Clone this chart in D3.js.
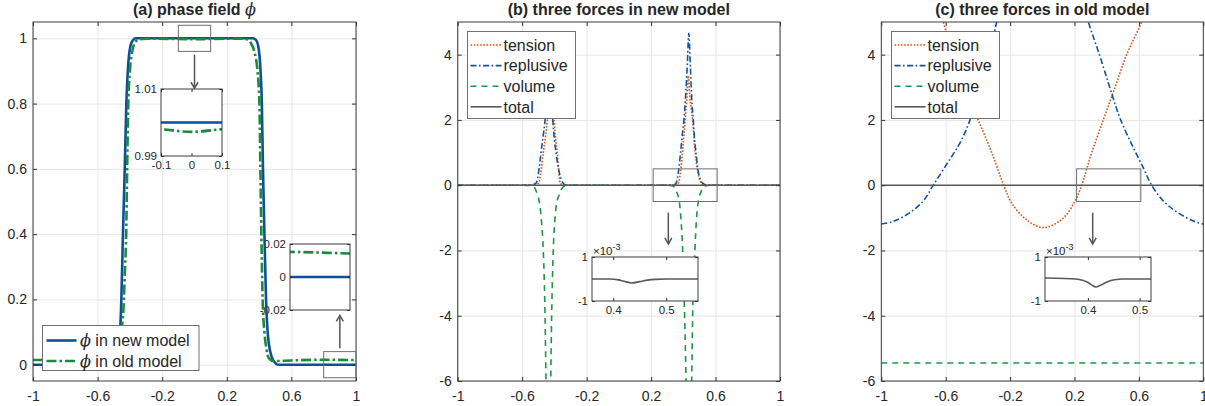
<!DOCTYPE html>
<html>
<head>
<meta charset="utf-8">
<script src="https://cdn.jsdelivr.net/npm/d3@7"></script>
<style>
body { margin: 0; background: #fff; }
svg text { font-family: "Liberation Sans", Arial, Helvetica, sans-serif; fill: #262626; }
</style>
</head>
<body>
<svg id="fig" width="1205" height="406"></svg>
<script>
// ---- values ----
const xTicks = [-1, -0.6, -0.2, 0.2, 0.6, 1];
const yTicksA = [0, 0.2, 0.4, 0.6, 0.8, 1];
const yTicksBC = [-6, -4, -2, 0, 2, 4];

const titles = ['(a) phase field  ', '(b) three forces in new model', '(c) three forces in old model'];
const legendA = ['ϕ in new model', 'ϕ in old model'];
const legendForces = ['tension', 'replusive', 'volume', 'total'];

// (a) phase field
const phiNew = [[-1,0],[-0.6,0],[-0.52,0],[-0.5,0.008],[-0.48,0.03],[-0.461,0.1],[-0.453,0.2],[-0.443,0.4],
  [-0.432,0.6],[-0.422,0.8],[-0.413,0.9],[-0.395,0.98],[-0.38,0.995],[-0.365,1],[0,1],[0.36,1],[0.38,0.995],
  [0.393,0.98],[0.409,0.9],[0.417,0.8],[0.424,0.6],[0.433,0.4],[0.443,0.2],[0.453,0.1],[0.474,0.03],
  [0.495,0.008],[0.515,0],[1,0]];
const phiOld = [[-1,0.0142],[-0.9,0.0148],[-0.8,0.0152],[-0.6,0.013],[-0.52,0.011],[-0.49,0.02],[-0.47,0.05],
  [-0.455,0.1],[-0.44,0.17],[-0.43,0.3],[-0.423,0.4],[-0.417,0.6],[-0.41,0.8],[-0.4,0.9],[-0.385,0.96],
  [-0.365,0.99],[-0.34,0.997],[-0.3,0.9988],[-0.1,0.998],[0,0.9972],[0.1,0.998],[0.3,0.9988],[0.33,0.996],
  [0.35,0.985],[0.37,0.96],[0.39,0.9],[0.402,0.8],[0.408,0.6],[0.414,0.4],[0.422,0.2],[0.433,0.1],
  [0.445,0.05],[0.46,0.02],[0.49,0.011],[0.6,0.013],[0.8,0.0152],[0.9,0.0148],[1,0.0142]];

// (b) forces, new model
const tensionB = [[-1,0],[-0.6,0],[-0.54,0.005],[-0.52,0.012],[-0.5,0.05],[-0.485,0.35],[-0.469,1],[-0.455,1.5],
  [-0.444,2],[-0.433,2.7],[-0.423,3.35],[-0.412,2.7],[-0.402,2],[-0.392,1.4],[-0.382,1],[-0.373,0.45],
  [-0.365,0.08],[-0.35,0.01],[-0.3,0],[0.3,0],[0.35,0.01],[0.369,0.06],[0.385,0.5],[0.4,1.3],[0.412,2],
  [0.422,2.7],[0.431,3.35],[0.44,2.75],[0.45,2.3],[0.458,2],[0.47,1.2],[0.49,0.4],[0.514,0.06],[0.53,0.01],
  [0.6,0],[1,0]];
const replusiveB = [[-1,0],[-0.6,0],[-0.54,0.01],[-0.514,0.06],[-0.495,0.5],[-0.483,1],[-0.47,1.5],[-0.458,2],
  [-0.446,3.1],[-0.434,4.65],[-0.422,3.1],[-0.41,2],[-0.4,1.4],[-0.39,1],[-0.37,0.4],[-0.345,0.06],
  [-0.33,0.01],[-0.3,0],[0.3,0],[0.34,0.01],[0.355,0.06],[0.372,0.5],[0.383,1],[0.395,1.6],[0.404,2],
  [0.415,2.8],[0.425,3.7],[0.434,4.65],[0.444,3.6],[0.454,2.5],[0.462,2],[0.47,1.4],[0.479,1],[0.49,0.5],
  [0.508,0.15],[0.524,0.05],[0.54,0.01],[0.6,0],[1,0]];
const volumeB = [[-1,0],[-0.6,0],[-0.54,-0.02],[-0.52,-0.1],[-0.505,-0.3],[-0.494,-0.5],[-0.48,-1.1],[-0.469,-2],
  [-0.458,-4],[-0.452,-6],[-0.445,-8],[-0.437,-8.5],[-0.43,-8],[-0.423,-6],[-0.417,-4],[-0.407,-2],
  [-0.396,-1],[-0.386,-0.55],[-0.37,-0.3],[-0.355,-0.12],[-0.34,-0.03],[-0.3,0],[0.3,0],[0.33,-0.02],
  [0.348,-0.08],[0.362,-0.25],[0.375,-0.5],[0.385,-1],[0.396,-2],[0.408,-4],[0.417,-6],[0.425,-8],
  [0.434,-8.5],[0.443,-8],[0.452,-6],[0.458,-4],[0.472,-2],[0.482,-1],[0.493,-0.5],[0.51,-0.2],
  [0.524,-0.06],[0.55,-0.01],[0.6,0],[1,0]];
const totalB = [[-1,0],[-0.5,0],[-0.48,-0.015e-3],[-0.465,-0.05e-3],[-0.45,-0.12e-3],[-0.435,-0.18e-3],
  [-0.42,-0.1e-3],[-0.41,-0.04e-3],[-0.395,0],[0.36,0],[0.395,0],[0.41,-0.04e-3],[0.42,-0.1e-3],
  [0.435,-0.18e-3],[0.45,-0.12e-3],[0.465,-0.05e-3],[0.48,-0.015e-3],[0.5,0],[1,0]];

// (c) forces, old model
const tensionC = [[-0.7,6.3],[-0.615,5],[-0.553,4],[-0.48,3],[-0.398,2],[-0.314,1],[-0.24,0],[-0.19,-0.55],
  [-0.1,-1.05],[0.006,-1.3],[0.12,-1.05],[0.2,-0.52],[0.245,0],[0.276,0.5],[0.307,1],[0.379,2],[0.452,3],
  [0.524,4],[0.617,5],[0.7,6.1]];
const replusiveC = [[-1,-1.19],[-0.925,-1.11],[-0.822,-0.84],[-0.739,-0.48],[-0.677,0],[-0.594,0.64],
  [-0.511,1.3],[-0.449,2],[-0.387,3.0],[-0.325,4.07],[-0.283,5],[-0.2,6.5],[0,7.5],[0.2,6.5],[0.286,5],
  [0.358,3.95],[0.42,2.98],[0.482,2.06],[0.565,1.15],[0.627,0.54],[0.679,0],[0.751,-0.48],[0.835,-0.82],
  [0.938,-1.1],[1,-1.19]];
const volumeC = [[-1,-5.45],[1,-5.45]];
const totalC = [[-1,0],[0.376,0],[0.39,-0.06e-3],[0.4,-0.16e-3],[0.408,-0.28e-3],[0.415,-0.36e-3],
  [0.423,-0.3e-3],[0.433,-0.18e-3],[0.443,-0.08e-3],[0.455,-0.02e-3],[0.47,0],[1,0]];

// ---- styles ----
const styles = {
  phiNew:    { stroke: '#0d4f98', width: 2.6, dash: null },
  phiOld:    { stroke: '#1b8a3c', width: 2.6, dash: '10,3,2.5,3' },
  tension:   { stroke: '#d95319', width: 1.6, dash: '1.6,1.6' },
  replusive: { stroke: '#0f54a0', width: 1.6, dash: '6,2.5,1.6,2.5' },
  volume:    { stroke: '#1e9446', width: 1.6, dash: '6,5' },
  total:     { stroke: '#595959', width: 1.6, dash: null }
};
const forceKeys = ['tension', 'replusive', 'volume', 'total'];

const svg = d3.select('#fig');
let clipCount = 0;

function styled(sel, st) {
  sel.attr('fill', 'none')
    .attr('stroke', st.stroke)
    .attr('stroke-width', st.width)
    .attr('stroke-dasharray', st.dash);
  return sel;
}

function makeClip(l, t, w, h) {
  const id = 'clip' + (clipCount++);
  svg.append('clipPath').attr('id', id)
    .append('rect').attr('x', l).attr('y', t).attr('width', w).attr('height', h);
  return 'url(#' + id + ')';
}

function scales(p) {
  return {
    x: d3.scaleLinear().domain(p.xd).range([p.l, p.r]),
    y: d3.scaleLinear().domain(p.yd).range([p.b, p.t])
  };
}

function grid(p, s) {
  const w = p.r - p.l, h = p.b - p.t;
  const g = svg.append('g');
  g.append('g').attr('transform', `translate(0,${p.b})`)
    .call(d3.axisBottom(s.x).tickValues(p.xticks).tickSize(-h).tickFormat(''))
    .call(a => a.select('.domain').remove());
  g.append('g').attr('transform', `translate(${p.l},0)`)
    .call(d3.axisLeft(s.y).tickValues(p.yticks).tickSize(-w).tickFormat(''))
    .call(a => a.select('.domain').remove());
  g.selectAll('line').attr('stroke', '#e6e6e6').attr('stroke-width', 1);
}

// box with inward ticks on all four sides
function frame(p, s, opt) {
  const g = svg.append('g').attr('color', '#262626');
  const tl = opt.tick;
  g.append('g').attr('transform', `translate(0,${p.b})`)
    .call(d3.axisBottom(s.x).tickValues(p.xticks).tickSizeInner(-tl).tickSizeOuter(0).tickFormat(''));
  g.append('g').attr('transform', `translate(${p.l},0)`)
    .call(d3.axisLeft(s.y).tickValues(p.yticks).tickSizeInner(-tl).tickSizeOuter(0).tickFormat(''));
  g.append('g').attr('transform', `translate(0,${p.t})`)
    .call(d3.axisTop(s.x).tickValues(p.xticks).tickSizeInner(-tl).tickSizeOuter(0).tickFormat(''));
  g.append('g').attr('transform', `translate(${p.r},0)`)
    .call(d3.axisRight(s.y).tickValues(p.yticks).tickSizeInner(-tl).tickSizeOuter(0).tickFormat(''));
  g.selectAll('.domain').remove();
  g.selectAll('text').remove();
  g.selectAll('.tick line').attr('stroke', '#333');
  g.append('rect').attr('x', p.l).attr('y', p.t).attr('width', p.r - p.l).attr('height', p.b - p.t)
    .attr('fill', 'none').attr('stroke', '#3c3c3c').attr('stroke-width', 1);
}

function labels(p, s, opt) {
  const g = svg.append('g').attr('color', '#262626');
  const fmt = opt.fmt || (d => String(d));
  if (opt.xLabels) {
    g.append('g').attr('transform', `translate(0,${p.b})`)
      .call(d3.axisBottom(s.x).tickValues(p.xticks).tickSize(0).tickPadding(opt.padX).tickFormat(fmt));
  }
  if (opt.yLabels) {
    g.append('g').attr('transform', `translate(${p.l},0)`)
      .call(d3.axisLeft(s.y).tickValues(p.yticks).tickSize(0).tickPadding(opt.padY).tickFormat(opt.yfmt || fmt));
  }
  g.selectAll('.domain').remove();
  g.selectAll('text').attr('font-size', opt.fontSize)
    .attr('font-family', '"Liberation Sans", Arial, sans-serif').attr('fill', '#262626');
  g.selectAll('g').attr('font-size', null).attr('font-family', null);
  if (opt.exponent) {
    const t = g.append('text').attr('x', p.l + 1).attr('y', p.t - 2.5).attr('font-size', 11.5);
    t.append('tspan').text('×10');
    t.append('tspan').attr('dy', -5).attr('font-size', 9).text('-3');
  }
}

function curves(p, s, series, curve) {
  const clip = makeClip(p.l, p.t, p.r - p.l, p.b - p.t);
  const g = svg.append('g').attr('clip-path', clip);
  const ln = d3.line().x(d => s.x(d[0])).y(d => s.y(d[1])).curve(curve || d3.curveMonotoneX);
  series.forEach(se => {
    styled(g.append('path').datum(se.data).attr('d', ln), styles[se.key]);
  });
}

function zoomBox(s, xr, yr) {
  svg.append('rect')
    .attr('x', s.x(xr[0])).attr('y', s.y(yr[1]))
    .attr('width', s.x(xr[1]) - s.x(xr[0])).attr('height', s.y(yr[0]) - s.y(yr[1]))
    .attr('fill', 'none').attr('stroke', '#6e6e6e').attr('stroke-width', 1);
}

function arrow(s, xv, yFrom, yTo) {
  const x0 = s.x(xv), y0 = s.y(yFrom), y1 = s.y(yTo);
  const dir = y1 > y0 ? 1 : -1;
  const g = svg.append('g').attr('stroke', '#555').attr('stroke-width', 1.5).attr('fill', 'none');
  g.append('line').attr('x1', x0).attr('x2', x0).attr('y1', y0).attr('y2', y1);
  g.append('path').attr('d', `M${x0 - 3.5},${y1 - dir * 6}L${x0},${y1}L${x0 + 3.5},${y1 - dir * 6}`);
}

function legend(box, keys, texts) {
  const g = svg.append('g');
  g.append('rect').attr('x', box.x).attr('y', box.y).attr('width', box.w).attr('height', box.h)
    .attr('fill', '#fff').attr('stroke', '#707070').attr('stroke-width', 1);
  const rows = g.selectAll('.row').data(keys).enter().append('g')
    .attr('transform', (d, i) => `translate(${box.x},${box.y0 + i * box.dy})`);
  rows.append('line').attr('x1', box.s0).attr('x2', box.s1).attr('y1', 0).attr('y2', 0)
    .each(function (d) { styled(d3.select(this), styles[d]); });
  rows.append('text').attr('x', box.tx).attr('y', 0).attr('dy', '0.36em').attr('font-size', 16)
    .each(function (d, i) {
      const t = d3.select(this), str = texts[i];
      if (str[0] === 'ϕ') {
        t.append('tspan').attr('font-family', '"DejaVu Serif", serif').attr('font-style', 'italic').text('ϕ');
        t.append('tspan').text(str.slice(1));
      } else t.text(str);
    });
}

function title(p, str, phi) {
  const t = svg.append('text').attr('x', (p.l + p.r) / 2).attr('y', 15)
    .attr('text-anchor', 'middle').attr('font-size', 16).attr('font-weight', 'bold');
  t.append('tspan').text(str);
  if (phi) t.append('tspan').attr('font-family', '"DejaVu Serif", serif').attr('font-style', 'italic')
    .attr('font-weight', 'normal').text('ϕ');
}

function inset(p, series, opt, curve) {
  const s = scales(p);
  svg.append('rect').attr('x', p.l).attr('y', p.t).attr('width', p.r - p.l).attr('height', p.b - p.t)
    .attr('fill', '#fff');
  curves(p, s, series, curve);
  frame(p, s, Object.assign({ tick: 3 }, opt));
}

const mainOpt = { tick: 4, fontSize: 14, padX: 10, padY: 6, xLabels: true, yLabels: true };
const insetOpt = { fontSize: 11.5, padX: 5, padY: 4, xLabels: true, yLabels: true };

// ---- panel (a) ----
const pA = { l: 33, r: 356, t: 22, b: 381, xd: [-1, 1], yd: [-0.05, 1.05], xticks: xTicks, yticks: yTicksA };
const sA = scales(pA);
const inA1 = { l: 161, r: 222, t: 89, b: 156, xd: [-0.1, 0.1], yd: [0.99, 1.01], xticks: [-0.1, 0, 0.1], yticks: [0.99, 1.01] };
const inA2 = { l: 290, r: 350, t: 244, b: 310, xd: [0.8, 1], yd: [-0.02, 0.02], xticks: [], yticks: [-0.02, 0, 0.02] };
const seriesA = [{ key: 'phiNew', data: phiNew }, { key: 'phiOld', data: phiOld }];

grid(pA, sA);
labels(pA, sA, mainOpt);
labels(inA1, scales(inA1), insetOpt);
labels(inA2, scales(inA2), Object.assign({}, insetOpt, { xLabels: false }));
curves(pA, sA, seriesA);
frame(pA, sA, mainOpt);
title(pA, titles[0], true);
zoomBox(sA, [-0.1, 0.1], [0.96, 1.04]);
zoomBox(sA, [0.8, 1], [-0.04, 0.04]);
arrow(sA, 0, 0.95, 0.847);
arrow(sA, 0.9, 0.05, 0.151);
inset(inA1, seriesA, insetOpt);
inset(inA2, seriesA, insetOpt);
legend({ x: 42.5, y: 325.5, w: 156.5, h: 45, y0: 340.5, dy: 20.5, s0: 4, s1: 34, tx: 37.5 },
  ['phiNew', 'phiOld'], legendA);

// ---- panels (b) and (c) ----
function forcePanel(p, data, inP, boxX, arrowX, leg, ttl, curve) {
  const s = scales(p);
  grid(p, s);
  labels(p, s, mainOpt);
  labels(inP, scales(inP), Object.assign({}, insetOpt, { yfmt: d => String(Math.round(d * 1000)), exponent: true }));
  const series = forceKeys.map((k, i) => ({ key: k, data: data[i] }));
  curves(p, s, series, curve);
  frame(p, s, mainOpt);
  title(p, ttl, false);
  zoomBox(s, boxX, [-0.5, 0.5]);
  arrow(s, arrowX, -0.84, -1.8);
  inset(inP, [series[3]], insetOpt, curve);
  legend(leg, forceKeys, legendForces);
}

const pB = { l: 457.7, r: 780, t: 22, b: 381, xd: [-1, 1], yd: [-6, 5], xticks: xTicks, yticks: yTicksBC };
const inB = { l: 592, r: 698, t: 257, b: 301, xd: [0.36, 0.56], yd: [-1e-3, 1e-3], xticks: [0.4, 0.5], yticks: [-1e-3, 1e-3] };
forcePanel(pB, [tensionB, replusiveB, volumeB, totalB], inB, [0.213, 0.61], 0.307,
  { x: 467.5, y: 31.5, w: 108, h: 87, y0: 45, dy: 20.6, s0: 3, s1: 34, tx: 36 }, titles[1], d3.curveMonotoneX);

const pC = { l: 881.3, r: 1203.3, t: 22, b: 381, xd: [-1, 1], yd: [-6, 5], xticks: xTicks, yticks: yTicksBC };
const inC = { l: 1045, r: 1151, t: 257, b: 301, xd: [0.317, 0.522], yd: [-1e-3, 1e-3], xticks: [0.4, 0.5], yticks: [-1e-3, 1e-3] };
forcePanel(pC, [tensionC, replusiveC, volumeC, totalC], inC, [0.213, 0.612], 0.313,
  { x: 891.5, y: 31.5, w: 108, h: 87, y0: 45, dy: 20.6, s0: 3, s1: 34, tx: 36 }, titles[2],
  d3.curveCatmullRom.alpha(0.5));
</script>
</body>
</html>
